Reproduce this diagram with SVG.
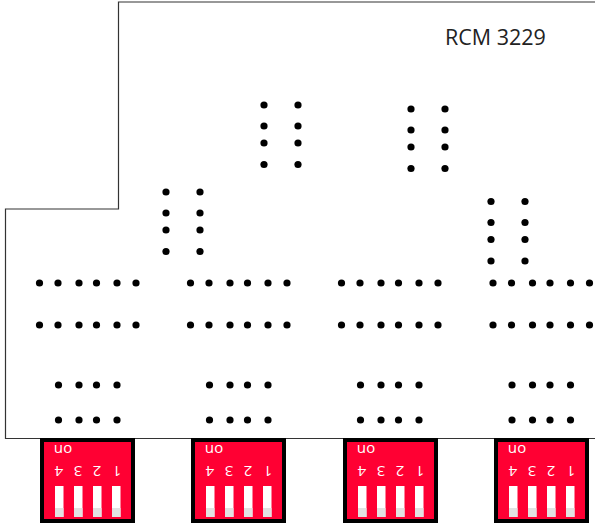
<svg xmlns="http://www.w3.org/2000/svg" xmlns:xlink="http://www.w3.org/1999/xlink" width="595" height="525" viewBox="0 0 595 525">
<style>
text{font-family:"Open Sans","Noto Sans","Liberation Sans",sans-serif}
.outline{fill:none;stroke:#333;stroke-width:1.2}
.sw{fill:#ff0033;stroke:#000;stroke-width:4}
.bar{fill:#fff}
.tip{fill:#e2e2e2}
.lab{fill:#fff;font-size:15px;text-anchor:middle}
.title{fill:#222;font-size:21.5px}
</style>
<defs>
<circle id="d" r="3.6" fill="#000"/>
<g id="row6"><use href="#d" x="39.5"/><use href="#d" x="58"/><use href="#d" x="79"/><use href="#d" x="96.5"/><use href="#d" x="117"/><use href="#d" x="136"/></g>
<g id="row4"><use href="#d" x="58.5"/><use href="#d" x="79"/><use href="#d" x="96.5"/><use href="#d" x="117"/></g>
<g id="col2"><use href="#d" x="0" y="0"/><use href="#d" x="34" y="0"/><use href="#d" x="0" y="21"/><use href="#d" x="34" y="21"/><use href="#d" x="0" y="38"/><use href="#d" x="34" y="38"/><use href="#d" x="0" y="59.5"/><use href="#d" x="34" y="59.5"/></g>
<g id="pads"><use href="#row6" y="283"/><use href="#row6" y="325"/><use href="#row4" y="385"/><use href="#row4" y="420"/></g>
<g id="dip">
<rect class="sw" x="42" y="440" width="91" height="81"/>
<rect class="bar" x="55" y="486" width="8.5" height="31"/><rect class="tip" x="55" y="508" width="8.5" height="9"/>
<rect class="bar" x="74" y="486" width="8.5" height="31"/><rect class="tip" x="74" y="508" width="8.5" height="9"/>
<rect class="bar" x="93" y="486" width="8.5" height="31"/><rect class="tip" x="93" y="508" width="8.5" height="9"/>
<rect class="bar" x="112" y="486" width="8.5" height="31"/><rect class="tip" x="112" y="508" width="8.5" height="9"/>
<text class="lab" transform="rotate(180 63 450)" x="63" y="455">on</text>
<text class="lab" transform="rotate(180 59 471)" x="59" y="476.5">4</text>
<text class="lab" transform="rotate(180 78 471)" x="78" y="476.5">3</text>
<text class="lab" transform="rotate(180 97 471)" x="97" y="476.5">2</text>
<text class="lab" transform="rotate(180 117 471)" x="117" y="476.5">1</text>
</g>
</defs>
<g id="board"><path class="outline" d="M595 2H118.5V209H5.5V438.5H595"/></g>
<text id="title" class="title" x="445" y="45">RCM 3229</text>
<g id="header-pads">
<use href="#col2" x="264" y="105"/><use href="#col2" x="411" y="109"/><use href="#col2" x="166" y="192"/><use href="#col2" x="491" y="201.500"/>
</g>
<g id="module-1"><use href="#pads"/><use href="#dip"/></g>
<g id="module-2"><use href="#pads" x="151"/><use href="#dip" x="151"/></g>
<g id="module-3"><use href="#pads" x="302"/><use href="#dip" x="303"/></g>
<g id="module-4"><use href="#pads" x="453.500"/><use href="#dip" x="454"/></g>
</svg>
